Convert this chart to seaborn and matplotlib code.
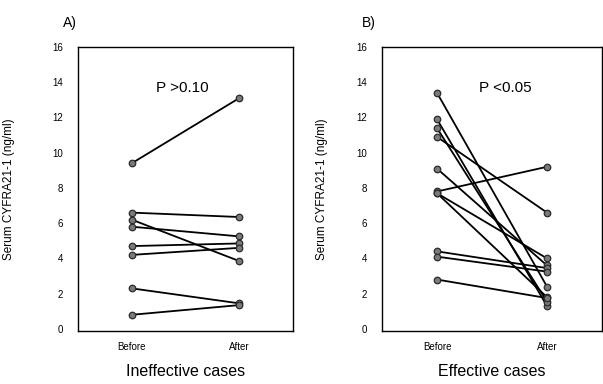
import matplotlib
matplotlib.use("Agg")
import matplotlib.pyplot as plt
import seaborn as sns
import pandas as pd

# ---- data ----
phases = ["Before", "After"]
a_before = [9.4, 6.6, 6.2, 5.8, 4.7, 4.2, 2.3, 0.8]
a_after = [13.1, 6.35, 3.85, 5.25, 4.85, 4.6, 1.45, 1.35]
b_before = [13.4, 11.9, 11.4, 10.9, 9.1, 7.8, 7.7, 7.7, 4.4, 4.1, 2.8]
b_after = [2.4, 1.3, 1.55, 6.6, 3.6, 9.2, 4.0, 1.8, 3.45, 3.25, 1.75]
yticks = [0, 2, 4, 6, 8, 10, 12, 14, 16]
panel_letters = ["A)", "B)"]
group_titles = ["Ineffective cases", "Effective cases"]
p_texts = ["P >0.10", "P <0.05"]
ylabel = "Serum CYFRA21-1 (ng/ml)"


def long_df(before, after):
    rows = []
    for i, (b, a) in enumerate(zip(before, after)):
        rows.append({"subject": i, "phase": 0, "value": b})
        rows.append({"subject": i, "phase": 1, "value": a})
    return pd.DataFrame(rows)


sns.set_style("ticks")
plt.rcParams["font.family"] = ["Liberation Sans", "DejaVu Sans"]
plt.rcParams["text.color"] = "black"
plt.rcParams["axes.labelcolor"] = "black"
plt.rcParams["xtick.color"] = "black"
plt.rcParams["ytick.color"] = "black"

fig = plt.figure(figsize=(6.03, 3.84), dpi=100)
axA = fig.add_axes([78 / 603, 1 - 331 / 384, 215 / 603, 284 / 384])
axB = fig.add_axes([382 / 603, 1 - 331 / 384, 220 / 603, 284 / 384])

specs = [
    (axA, a_before, a_after, 0.47, -0.293, 63),
    (axB, b_before, b_after, 0.62, -0.245, 362),
]

for k, (ax, bef, aft, px, ylab_x, letter_x) in enumerate(specs):
    df = long_df(bef, aft)
    sns.lineplot(data=df, x="phase", y="value", units="subject", estimator=None,
                 color="black", linewidth=1.3, ax=ax, zorder=2, legend=False)
    sns.scatterplot(data=df, x="phase", y="value", color="#7a7a7a",
                    edgecolor="#2a2a2a", linewidth=0.9, s=22, ax=ax,
                    zorder=3, legend=False)
    ax.set_xlim(-0.5, 1.5)
    ax.set_ylim(-0.12, 16.0)
    ax.set_xticks([0, 1])
    ax.set_xticklabels(phases)
    ax.set_yticks(yticks)
    ax.tick_params(axis="both", length=0, labelsize=7)
    ax.tick_params(axis="y", pad=11)
    ax.tick_params(axis="x", pad=8)
    for sp in ax.spines.values():
        sp.set_visible(True)
        sp.set_linewidth(1.0)
        sp.set_color("black")
    ax.set_ylabel(ylabel, fontsize=8.5)
    ax.yaxis.set_label_coords(ylab_x, 0.5)
    ax.set_xlabel(group_titles[k], fontsize=11.5)
    ax.xaxis.set_label_coords(0.5, -41 / 284)
    ax.xaxis.label.set_verticalalignment("center")
    ax.text(px, 13.7, p_texts[k], fontsize=11, ha="center", va="center")
    fig.text(letter_x / 603, 1 - 23 / 384, panel_letters[k], fontsize=10,
             ha="left", va="center")

fig.savefig("out.png", dpi=100, facecolor="white")
